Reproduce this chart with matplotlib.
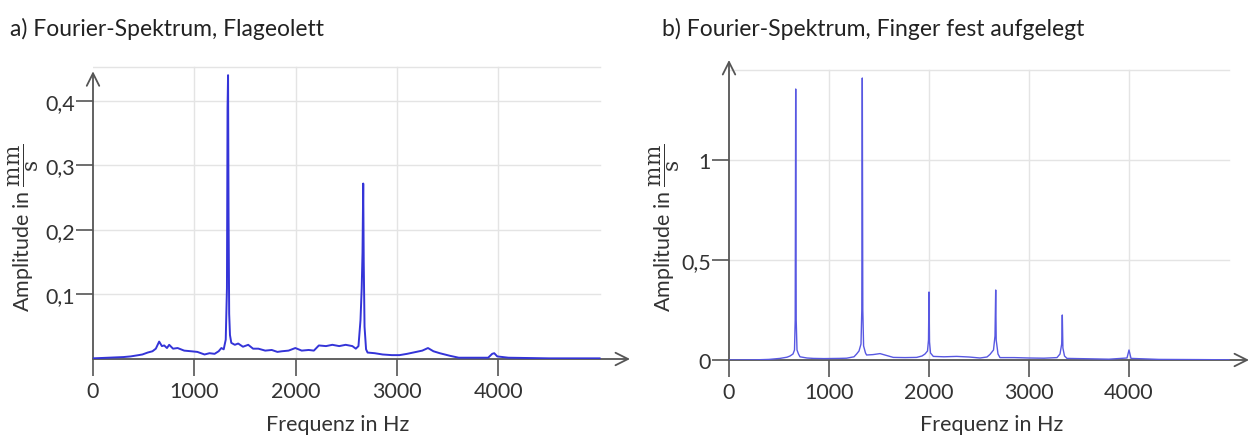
import matplotlib
matplotlib.use('Agg')
import matplotlib.pyplot as plt

# Fourier-Spektrum a) Flageolett: Frequenz in Hz, Amplitude in mm/s
freq_a = [0, 150, 300, 371, 450, 487, 540, 587, 620, 653, 680, 703, 730, 752, 790, 835,
          900, 968, 1030, 1101, 1150, 1200, 1240, 1267, 1290, 1310, 1322, 1328, 1333, 1338,
          1344, 1352, 1365, 1400, 1433, 1480, 1532, 1580, 1632, 1700, 1764, 1820, 1864,
          1930, 1997, 2060, 2129, 2180, 2229, 2300, 2362, 2430, 2494, 2560, 2594, 2620,
          2640, 2652, 2660, 2667, 2672, 2680, 2695, 2710, 2780, 2859, 2950, 3025, 3100,
          3190, 3250, 3306, 3360, 3422, 3522, 3610, 3750, 3900, 3940, 3960, 3990, 4100,
          4500, 5000]
amp_a = [0.001, 0.002, 0.003, 0.004, 0.006, 0.007, 0.010, 0.012, 0.016, 0.027, 0.020,
         0.021, 0.017, 0.022, 0.016, 0.017, 0.013, 0.012, 0.011, 0.007, 0.009, 0.008,
         0.012, 0.017, 0.015, 0.030, 0.110, 0.390, 0.440, 0.220, 0.070, 0.037, 0.025,
         0.022, 0.024, 0.019, 0.022, 0.016, 0.016, 0.013, 0.014, 0.011, 0.012, 0.013,
         0.017, 0.013, 0.014, 0.013, 0.021, 0.020, 0.022, 0.020, 0.022, 0.020, 0.016,
         0.020, 0.060, 0.110, 0.165, 0.272, 0.150, 0.050, 0.015, 0.010, 0.009, 0.007,
         0.006, 0.006, 0.008, 0.011, 0.013, 0.017, 0.012, 0.009, 0.005, 0.002, 0.002,
         0.002, 0.008, 0.009, 0.004, 0.002, 0.001, 0.001]

# Fourier-Spektrum b) Finger fest aufgelegt
freq_b = [0, 277, 400, 510, 580, 610, 640, 655, 662, 667, 672, 680, 695, 710, 780, 843,
          950, 1100, 1176, 1250, 1276, 1300, 1320, 1328, 1333, 1338, 1346, 1365, 1376,
          1440, 1510, 1580, 1643, 1760, 1876, 1930, 1960, 1985, 1995, 2000, 2005, 2015,
          2043, 2150, 2276, 2400, 2510, 2580, 2610, 2645, 2660, 2667, 2672, 2690, 2710,
          2850, 3000, 3150, 3280, 3310, 3327, 3333, 3339, 3355, 3380, 3600, 3800, 3980,
          4000, 4020, 4300, 4700, 5000]
amp_b = [0.0, 0.001, 0.003, 0.008, 0.014, 0.020, 0.030, 0.050, 0.200, 1.355, 0.200,
         0.050, 0.030, 0.016, 0.010, 0.008, 0.007, 0.008, 0.009, 0.016, 0.030, 0.045,
         0.080, 0.250, 1.410, 0.250, 0.070, 0.035, 0.025, 0.027, 0.032, 0.022, 0.013,
         0.012, 0.013, 0.020, 0.030, 0.045, 0.100, 0.340, 0.090, 0.035, 0.018, 0.016,
         0.018, 0.015, 0.010, 0.015, 0.028, 0.050, 0.120, 0.350, 0.100, 0.030, 0.012,
         0.012, 0.010, 0.009, 0.012, 0.030, 0.080, 0.225, 0.060, 0.020, 0.008, 0.006,
         0.004, 0.010, 0.050, 0.008, 0.003, 0.002, 0.001]

xticks = [0, 1000, 2000, 3000, 4000]
yticks_a = [0.1, 0.2, 0.3, 0.4]
yticks_b = [0, 0.5, 1]

plt.rcParams['font.family'] = ['Lato', 'DejaVu Sans']
plt.rcParams['mathtext.fontset'] = 'dejavuserif'

W, H = 1251, 439
fig = plt.figure(figsize=(W / 100, H / 100), dpi=100)

axis_col = '#555555'
grid_col = '#e4e4e4'
text_col = '#333333'


def px_axes(left, top, right, bottom):
    return fig.add_axes([left / W, 1 - bottom / H, (right - left) / W, (bottom - top) / H])


def setup(ax, xmax, ymax, ytop_grid, yticks, ylabels, x_tip, y_tip):
    ax.set_xlim(0, xmax)
    ax.set_ylim(0, ymax)
    for s in ax.spines.values():
        s.set_visible(False)
    # light grid
    for yv in yticks + [ytop_grid]:
        if yv > 0:
            ax.plot([0, 5000], [yv, yv], color=grid_col, lw=1.0, zorder=0)
    for xv in xticks[1:]:
        ax.plot([xv, xv], [0, ytop_grid], color=grid_col, lw=1.0, zorder=0)
    # axes with open arrow heads
    arrow = dict(arrowstyle='->,head_length=0.9,head_width=0.45', color=axis_col, lw=1.3,
                 shrinkA=0, shrinkB=0)
    ax.annotate('', xy=(x_tip, 0), xytext=(0, 0), arrowprops=arrow, annotation_clip=False)
    ax.annotate('', xy=(0, y_tip), xytext=(0, 0), arrowprops=arrow, annotation_clip=False)
    ax.set_xticks(xticks)
    ax.set_xticklabels([str(t) for t in xticks])
    ax.set_yticks(yticks)
    ax.set_yticklabels(ylabels)
    ax.tick_params(axis='both', direction='out', length=12, width=1.2, color=axis_col,
                   labelsize=15.5, labelcolor=text_col)
    ax.tick_params(axis='x', pad=4)
    ax.tick_params(axis='y', pad=1)


# a) Flageolett
ax1 = px_axes(93, 66.5, 630, 360)
setup(ax1, 5300, 0.455, 0.453, yticks_a, ['0,1', '0,2', '0,3', '0,4'], 5300, 0.446)
ax1.plot(freq_a, amp_a, color='#3434d8', lw=1.4, zorder=3)

# b) Finger fest aufgelegt
ax2 = px_axes(729, 61, 1249, 361)
setup(ax2, 5200, 1.5, 1.45, yticks_b, ['0', '0,5', '1'], 5200, 1.5)
ax2.plot(freq_b, amp_b, color='#5858e2', lw=1.0, zorder=3)

# titles and axis labels
fig.text(10 / W, 1 - 29 / H, 'a) Fourier-Spektrum, Flageolett', fontsize=16.5,
         color='#222222', va='center', ha='left')
fig.text(662 / W, 1 - 29 / H, 'b) Fourier-Spektrum, Finger fest aufgelegt', fontsize=16.5,
         color='#222222', va='center', ha='left')

ylab = r'Amplitude in $\dfrac{\mathrm{mm}}{\mathrm{s}}$'
fig.text(24 / W, 1 - 228 / H, ylab, rotation=90, fontsize=15.5, color=text_col,
         va='center', ha='center')
fig.text(665 / W, 1 - 228 / H, ylab, rotation=90, fontsize=15.5, color=text_col,
         va='center', ha='center')
fig.text(338 / W, 1 - 425 / H, 'Frequenz in Hz', fontsize=15.5, color=text_col,
         va='center', ha='center')
fig.text(992 / W, 1 - 425 / H, 'Frequenz in Hz', fontsize=15.5, color=text_col,
         va='center', ha='center')

fig.savefig('out.png', dpi=100)
